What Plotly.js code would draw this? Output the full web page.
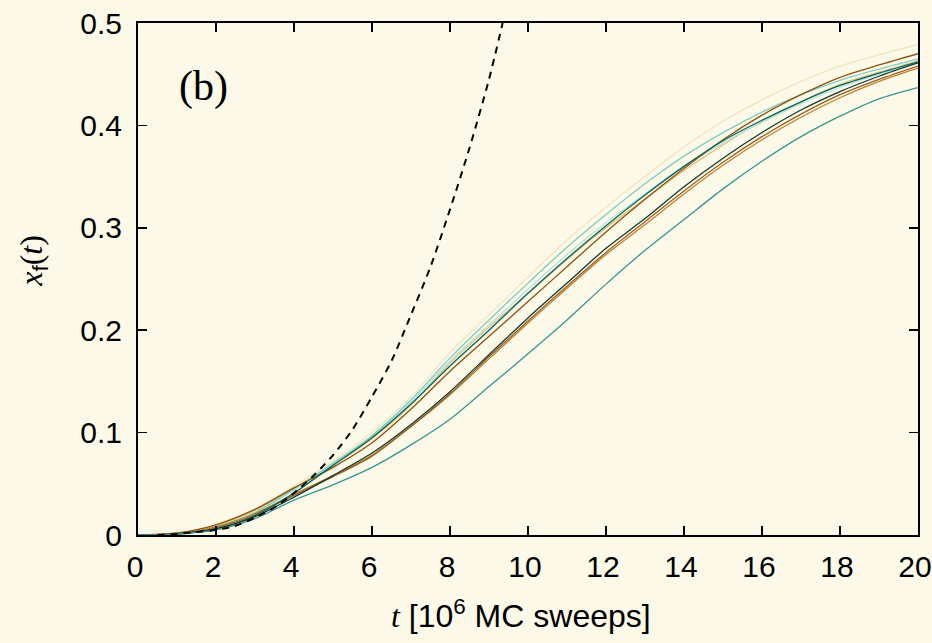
<!DOCTYPE html>
<html>
<head>
<meta charset="utf-8">
<script src="https://cdn.plot.ly/plotly-3.0.1.min.js"></script>
<style>html,body{margin:0;padding:0;background:#fdf9e9;overflow:hidden;}#chart{width:932px;height:643px;}</style>
</head>
<body>
<div id="chart"></div>
<script>
// time axis [10^6 MC sweeps]
const tSweeps = [0, 1, 2, 3, 4, 5, 6, 7, 8, 9, 10, 11, 12, 13, 14, 15, 16, 17, 18, 19, 20];

// x_f(t) for individual runs
const runCream     = [0, 0.002, 0.010, 0.025, 0.048, 0.072, 0.100, 0.135, 0.178, 0.215, 0.252, 0.288, 0.320, 0.350, 0.379, 0.404, 0.425, 0.443, 0.458, 0.469, 0.479];
const runLightTeal = [0, 0.001, 0.008, 0.022, 0.045, 0.070, 0.097, 0.132, 0.173, 0.210, 0.246, 0.281, 0.313, 0.343, 0.370, 0.393, 0.413, 0.430, 0.444, 0.455, 0.465];
const runDarkTeal  = [0, 0.001, 0.006, 0.019, 0.041, 0.068, 0.095, 0.128, 0.165, 0.200, 0.236, 0.270, 0.302, 0.332, 0.360, 0.385, 0.405, 0.423, 0.439, 0.451, 0.462];
const runPaleTeal  = [0, 0.001, 0.008, 0.022, 0.044, 0.069, 0.096, 0.130, 0.170, 0.205, 0.240, 0.274, 0.305, 0.333, 0.360, 0.383, 0.403, 0.421, 0.437, 0.450, 0.461];
const runTan       = [0, 0.002, 0.009, 0.024, 0.046, 0.068, 0.094, 0.127, 0.168, 0.203, 0.236, 0.269, 0.300, 0.328, 0.356, 0.381, 0.404, 0.423, 0.440, 0.452, 0.463];
const runDarkBrown = [0, 0.002, 0.010, 0.025, 0.046, 0.066, 0.090, 0.123, 0.160, 0.194, 0.228, 0.262, 0.296, 0.328, 0.358, 0.386, 0.410, 0.430, 0.447, 0.459, 0.470];
const runDark      = [0, 0.001, 0.006, 0.018, 0.037, 0.058, 0.080, 0.108, 0.140, 0.176, 0.212, 0.246, 0.280, 0.309, 0.340, 0.368, 0.393, 0.415, 0.433, 0.448, 0.461];
const runOrange    = [0, 0.001, 0.008, 0.021, 0.040, 0.058, 0.078, 0.106, 0.137, 0.172, 0.207, 0.241, 0.274, 0.303, 0.333, 0.361, 0.386, 0.408, 0.427, 0.443, 0.456];
const runBrown     = [0, 0.001, 0.007, 0.020, 0.039, 0.057, 0.077, 0.106, 0.138, 0.174, 0.209, 0.243, 0.276, 0.306, 0.336, 0.364, 0.389, 0.411, 0.430, 0.445, 0.458];
const runTeal      = [0, 0.001, 0.005, 0.016, 0.034, 0.049, 0.066, 0.088, 0.113, 0.145, 0.177, 0.210, 0.245, 0.278, 0.308, 0.338, 0.365, 0.389, 0.409, 0.426, 0.437];

// dashed reference curve
const tDashed = [0.5, 1.0, 1.5, 2.0, 2.5, 3.0, 3.5, 4.0, 4.5, 5.0, 5.5, 6.0, 6.5, 7.0, 7.5, 8.0, 8.5, 9.0, 9.35];
const xDashed = [0.000, 0.001, 0.003, 0.005, 0.009, 0.017, 0.027, 0.041, 0.058, 0.078, 0.103, 0.135, 0.170, 0.215, 0.262, 0.318, 0.378, 0.445, 0.500];

// text
const xTitle = '<span style="font-family:Liberation Serif"><i>t</i></span> [10<sup>6</sup> MC sweeps]';
const yTitle = '<span style="font-family:Liberation Serif"><i>x</i></span><sub>f</sub><span style="font-family:Liberation Serif">(<i>t</i>)</span>';
const panelLabel = '(b)';

const runs = [
  {y: runCream,     c: '#f3e3bd'},
  {y: runTan,       c: '#dfc27d'},
  {y: runPaleTeal,  c: '#b5e2db'},
  {y: runLightTeal, c: '#7fcbbf'},
  {y: runOrange,    c: '#bf812d'},
  {y: runBrown,     c: '#9a5e1e'},
  {y: runDarkBrown, c: '#8c510a'},
  {y: runDarkTeal,  c: '#01665e'},
  {y: runDark,      c: '#0d3b33'},
  {y: runTeal,      c: '#35978f'}
];

const traces = runs.map(r => ({
  x: tSweeps, y: r.y, type: 'scatter', mode: 'lines',
  line: {color: r.c, width: 1.3, shape: 'spline', smoothing: 0.8},
  showlegend: false, hoverinfo: 'skip'
}));
traces.push({
  x: tDashed, y: xDashed, type: 'scatter', mode: 'lines',
  line: {color: '#000000', width: 2, dash: '7px,6px', shape: 'spline', smoothing: 0.8},
  showlegend: false, hoverinfo: 'skip'
});

const bg = '#fdf9e9';
const sans = 'Liberation Sans';
const serif = 'Liberation Serif';
const axisCommon = {
  showline: true, linecolor: '#000', linewidth: 2, mirror: 'ticks',
  ticks: 'inside', ticklen: 9, tickwidth: 1.5, tickcolor: '#000',
  showgrid: false, zeroline: false, ticklabeloverflow: 'allow',
  tickfont: {family: sans, size: 30, color: '#000'}
};

const layout = {
  width: 932, height: 643,
  paper_bgcolor: bg, plot_bgcolor: bg,
  margin: {l: 138, r: 14, t: 23, b: 108},
  xaxis: Object.assign({}, axisCommon, {range: [0, 20], dtick: 2, tick0: 0, ticklabelstandoff: 4, ticklabelshift: -3}),
  yaxis: Object.assign({}, axisCommon, {range: [0, 0.5], dtick: 0.1, tick0: 0, ticklabelstandoff: 8}),
  annotations: [
    {text: panelLabel, x: 1.68, y: 0.438, xref: 'x', yref: 'y', showarrow: false,
     font: {family: serif, size: 42, color: '#000'}},
    {text: xTitle, x: 0.491, y: -0.155, xref: 'paper', yref: 'paper', showarrow: false,
     xanchor: 'center', yanchor: 'middle', font: {family: sans, size: 32, color: '#000'}},
    {text: yTitle, x: -0.135, y: 0.535, xref: 'paper', yref: 'paper', showarrow: false,
     textangle: -90, xanchor: 'center', yanchor: 'middle', font: {family: sans, size: 32, color: '#000'}}
  ]
};

Plotly.newPlot('chart', traces, layout, {displayModeBar: false, staticPlot: true});
</script>
</body>
</html>
